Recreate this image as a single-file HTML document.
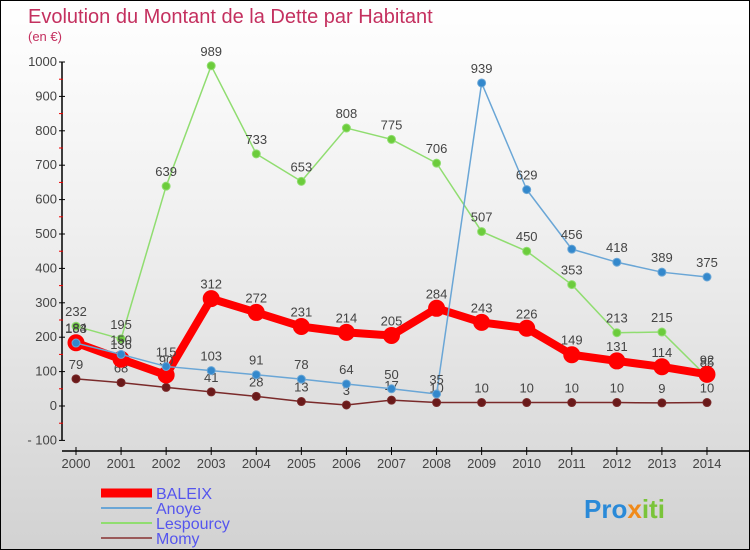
<!DOCTYPE html>
<html><head><meta charset="utf-8"><style>
body{margin:0;}
#wrap{position:relative;width:748px;height:548px;border:1px solid #000;background:linear-gradient(#ffffff,#f0f0f0 40%,#d2d2d2);font-family:"Liberation Sans",sans-serif;overflow:hidden}
svg{position:absolute;left:0;top:0}
</style></head><body>
<div id="wrap">
<svg id="c" width="750" height="550"></svg>
</div>
<script>
const years=[2000,2001,2002,2003,2004,2005,2006,2007,2008,2009,2010,2011,2012,2013,2014];
const baleix=[184,136,90,312,272,231,214,205,284,243,226,149,131,114,92];
const anoye=[183,150,115,103,91,78,64,50,35,939,629,456,418,389,375];
const lespourcy=[232,195,639,989,733,653,808,775,706,507,450,353,213,215,85];
const momy=[79,68,54,41,28,13,3,17,10,10,10,10,10,9,10];
const yTicks=[-100,0,100,200,300,400,500,600,700,800,900,1000];
const NS="http://www.w3.org/2000/svg";
const svg=document.getElementById('c');
const X=i=>75+i*45.07;
const Y=v=>405-v*0.344;
function mk(t,a,p){const e=document.createElementNS(NS,t);for(const k in a)e.setAttribute(k,a[k]);(p||svg).appendChild(e);return e;}
let t=mk('text',{x:27,y:22,fill:'#c4305f','font-size':20});t.textContent='Evolution du Montant de la Dette par Habitant';


t=mk('text',{x:27,y:40,fill:'#c4305f','font-size':13});t.textContent='(en €)';


let ax=mk('line',{x1:61,y1:Y(1000),x2:61,y2:Y(-100),stroke:'#000','stroke-width':1.5});


ax=mk('line',{x1:61,y1:450,x2:748,y2:450,stroke:'#000','stroke-width':1.5});


yTicks.forEach(v=>{mk('line',{x1:58,y1:Y(v),x2:64,y2:Y(v),stroke:'#000'});
 if(v<1000)mk('line',{x1:58,y1:Y(v+50),x2:62,y2:Y(v+50),stroke:'#e00'});
 const l=mk('text',{x:56,y:Y(v)+4,'text-anchor':'end','font-size':13,fill:'#444'});l.textContent=v<0?'- '+(-v):v;
 
 });
years.forEach((yr,i)=>{mk('line',{x1:X(i),y1:446,x2:X(i),y2:454,stroke:'#000'});
 const l=mk('text',{x:X(i),y:467,'text-anchor':'middle','font-size':13,fill:'#444'});l.textContent=yr;
 
 });
function series(data,color,w,r,dot,name){
 const g=mk('g',{});
 
 
 mk('polyline',{points:data.map((v,i)=>X(i)+','+Y(v)).join(' '),fill:'none',stroke:color,'stroke-width':w,'stroke-linejoin':'round'},g);
 data.forEach((v,i)=>{const c=mk('circle',{cx:X(i),cy:Y(v),r:r,fill:dot,stroke:color,'stroke-width':1},g);
  
  
  const l=mk('text',{x:X(i),y:Y(v)-10,'text-anchor':'middle','font-size':13,fill:'#444'},g);l.textContent=v;});
}
series(momy,'#7a2a2a',1.5,4,'#6a1a1a','momy');
series(lespourcy,'#90dd70',1.5,4,'#6ccc3c','lespourcy');
series(baleix,'#f00',8,8,'#f00','baleix');
series(anoye,'#6aa6d6',1.5,4,'#3388cc','anoye');
const leg=[['BALEIX','#f00',9],['Anoye','#6aa6d6',2],['Lespourcy','#90dd70',2],['Momy','#9a5a5a',2]];
leg.forEach((d,i)=>{const y=492+i*15;
 const g=mk('g',{});
 
 
 mk('line',{x1:100,y1:y,x2:151,y2:y,stroke:d[1],'stroke-width':d[2]},g);
 const l=mk('text',{x:155,y:y+6,'font-size':16,fill:'#5555ee'},g);l.textContent=d[0];});
const p=mk('text',{x:583,y:517,'font-size':26,'font-weight':'bold',fill:'#2a8ad8'});
p.innerHTML='<tspan fill="#2a8ad8">Pro</tspan><tspan fill="#f08a1a">x</tspan><tspan fill="#7ac43a">iti</tspan>';


</script>
</body></html>
